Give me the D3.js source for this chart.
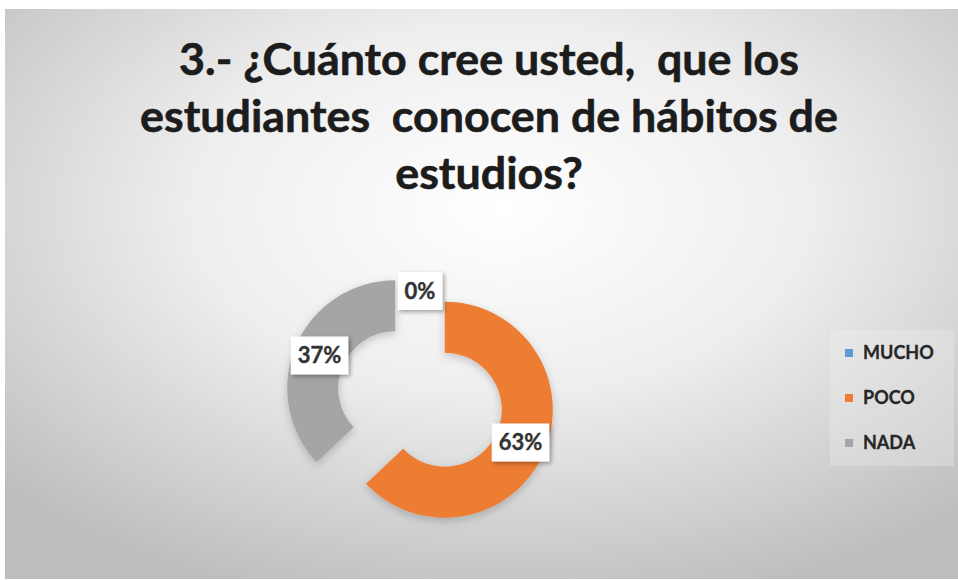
<!DOCTYPE html>
<html>
<head>
<meta charset="utf-8">
<script src="https://cdn.jsdelivr.net/npm/d3@7"></script>
<style>
  html, body { margin: 0; padding: 0; background: #ffffff; }
  svg { display: block; }
</style>
</head>
<body>
<script>
// ---- data ----
const categories = ["MUCHO", "POCO", "NADA"];
const values = [0, 63, 37];
const percentLabels = ["0%", "63%", "37%"];
const colors = ["#5B9BD5", "#ED7D31", "#A5A5A5"];
const titleLines = [
  "3.- ¿Cuánto cree usted,  que los",
  "estudiantes  conocen de hábitos de",
  "estudios?"
];

// ---- layout ----
const W = 958, H = 580;
const svg = d3.select("body").append("svg").attr("width", W).attr("height", H);
const defs = svg.append("defs");

const grad = defs.append("radialGradient").attr("id", "bg")
  .attr("cx", "52%").attr("cy", "35%").attr("r", "72%");
grad.append("stop").attr("offset", "0%").attr("stop-color", "#ffffff");
grad.append("stop").attr("offset", "45%").attr("stop-color", "#eeeeee");
grad.append("stop").attr("offset", "100%").attr("stop-color", "#bdbdbd");

const shadow = defs.append("filter").attr("id", "shadow")
  .attr("x", "-30%").attr("y", "-30%").attr("width", "160%").attr("height", "160%");
shadow.append("feDropShadow").attr("dx", 2).attr("dy", 2).attr("stdDeviation", 2)
  .attr("flood-color", "#000").attr("flood-opacity", 0.35);

const softShadow = defs.append("filter").attr("id", "softShadow")
  .attr("x", "-20%").attr("y", "-20%").attr("width", "140%").attr("height", "140%");
softShadow.append("feDropShadow").attr("dx", 0).attr("dy", 3).attr("stdDeviation", 4)
  .attr("flood-color", "#000").attr("flood-opacity", 0.2);

svg.append("rect").attr("x", 5).attr("y", 9).attr("width", W - 5).attr("height", 570)
  .attr("fill", "url(#bg)");

// ---- title ----
const titleCx = 489;
const titleTargets = [625, 698, 185];
const titleBase = [75, 132, 189];
const title = svg.append("g");
titleLines.forEach((t, i) => {
  title.append("text")
    .attr("x", titleCx).attr("y", titleBase[i])
    .attr("text-anchor", "middle")
    .style("white-space", "pre")
    .style("font-family", "Lato, 'Open Sans', sans-serif")
    .style("font-weight", "bold")
    .style("font-size", "40px")
    .attr("fill", "#1c1c1c")
    .attr("stroke", "#1c1c1c").attr("stroke-width", 0.6)
    .text(t);
});
const widest = title.select("text:nth-child(2)").node().getComputedTextLength();
const fs = 40 * titleTargets[1] / widest;
title.selectAll("text").style("font-size", fs + "px");

// ---- donut ----
const cx = 420, cy = 399;
const rOuter = 108, rInner = 57, explode = 27;

const pie = d3.pie().sort(null).value(d => d)(values);
const arc = d3.arc().innerRadius(rInner).outerRadius(rOuter);
const mid = d => (d.startAngle + d.endAngle) / 2;
const off = d => d.value > 0 ? [Math.sin(mid(d)) * explode, -Math.cos(mid(d)) * explode] : [0, 0];

const g = svg.append("g").attr("transform", `translate(${cx},${cy})`);
g.selectAll("path.slice").data(pie).join("path")
  .attr("class", "slice")
  .attr("transform", d => `translate(${off(d)[0]},${off(d)[1]})`)
  .attr("d", arc)
  .attr("fill", (d, i) => colors[i])
  .attr("filter", "url(#softShadow)");

// ---- data labels ----
const labelFont = 22;
pie.forEach((d, i) => {
  const o = off(d);
  let p;
  if (d.value > 0) {
    p = arc.centroid(d);
  } else {
    const a = mid(d);
    p = [Math.sin(a) * rOuter, -Math.cos(a) * rOuter];
  }
  const lx = p[0] + o[0], ly = p[1] + o[1];
  const lg = g.append("g").attr("transform", `translate(${lx},${ly})`);
  const t = lg.append("text")
    .attr("text-anchor", "middle").attr("dy", "0.36em")
    .style("font-family", "Lato, 'Open Sans', sans-serif")
    .style("font-weight", "bold")
    .style("font-size", labelFont + "px")
    .attr("fill", "#333333")
    .attr("stroke", "#333333").attr("stroke-width", 0.4)
    .text(percentLabels[i]);
  const w = t.node().getComputedTextLength();
  lg.insert("rect", "text")
    .attr("x", -w / 2 - 7).attr("y", -19)
    .attr("width", w + 14).attr("height", 38)
    .attr("fill", "#ffffff")
    .attr("filter", "url(#shadow)");
});

// ---- legend ----
const legend = svg.append("g").attr("transform", "translate(830,330)");
legend.append("rect").attr("x", 0).attr("y", 0).attr("width", 124).attr("height", 136)
  .attr("fill", "#f2f2f2").attr("opacity", 0.3);
categories.forEach((c, i) => {
  const row = legend.append("g").attr("transform", `translate(15,${23 + i * 45})`);
  row.append("rect").attr("x", 0).attr("y", -4).attr("width", 8).attr("height", 8)
    .attr("fill", colors[i]);
  row.append("text").attr("x", 18).attr("y", 0).attr("dy", "0.35em")
    .style("font-family", "Lato, 'Open Sans', sans-serif")
    .style("font-weight", "bold")
    .style("font-size", "18px")
    .attr("fill", "#262626")
    .attr("stroke", "#262626").attr("stroke-width", 0.3)
    .text(c);
});
</script>
</body>
</html>
